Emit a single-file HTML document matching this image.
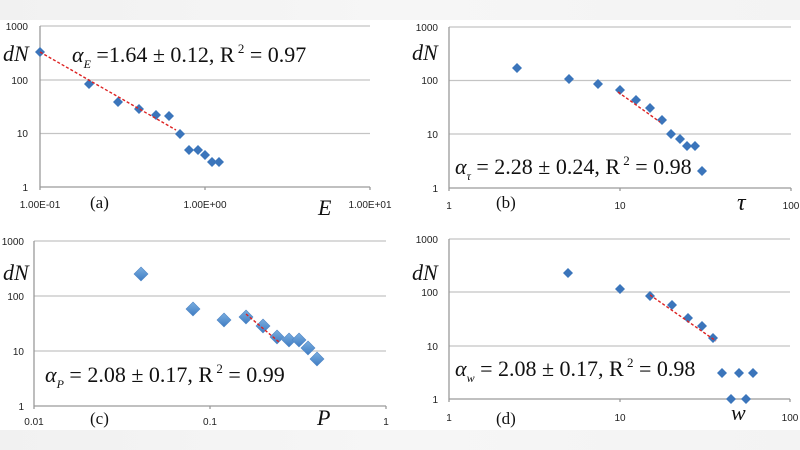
<!DOCTYPE html>
<html><head><meta charset="utf-8"><style>
html,body{margin:0;padding:0;background:#fff;}
svg{display:block}
.t{font-family:"Liberation Sans",sans-serif;font-size:10px;fill:#222}
.s{font-family:"Liberation Serif",serif;fill:#111}
.g{stroke:#c4c4c4;stroke-width:1.3}
.ax{stroke:#9a9a9a;stroke-width:1.3}
</style></head><body>
<svg width="800" height="450" viewBox="0 0 800 450" xmlns="http://www.w3.org/2000/svg">
<defs>
<linearGradient id="tb" x1="0" x2="1" y1="0" y2="0">
<stop offset="0" stop-color="#f1f1f1"/><stop offset="0.5" stop-color="#f6f6f6"/><stop offset="1" stop-color="#f3f3f3"/>
</linearGradient>
<linearGradient id="mk" x1="0" y1="0" x2="0" y2="1"><stop offset="0" stop-color="#7aaee0"/><stop offset="1" stop-color="#3f7cc2"/></linearGradient>
<symbol id="d" viewBox="-5 -5 10 10" overflow="visible"><path d="M0,-5L5,0L0,5L-5,0Z" fill="#3b75bb"/></symbol>
<symbol id="D" viewBox="-7 -7 14 14" overflow="visible"><path d="M0,-7L7,0L0,7L-7,0Z" fill="url(#mk)" stroke="#4f86c6" stroke-width="0.6"/></symbol>
</defs>
<rect x="0" y="0" width="800" height="20" fill="url(#tb)"/>
<rect x="0" y="430" width="800" height="20" fill="url(#tb)"/>

<!-- Panel a -->
<g>
<line class="g" x1="40" y1="26" x2="370" y2="26"/><line class="g" x1="40" y1="80" x2="370" y2="80"/><line class="g" x1="40" y1="133.5" x2="370" y2="133.5"/>
<line class="ax" x1="40" y1="187" x2="370" y2="187"/><line class="ax" x1="40" y1="26" x2="40" y2="190"/>
<line class="ax" x1="205" y1="187" x2="205" y2="190"/><line class="ax" x1="370" y1="187" x2="370" y2="190"/>
<text class="t" x="28" y="30" text-anchor="end">1000</text><text class="t" x="28" y="84" text-anchor="end">100</text>
<text class="t" x="28" y="137" text-anchor="end">10</text><text class="t" x="28" y="191" text-anchor="end">1</text>
<text class="t" x="40" y="208" text-anchor="middle">1.00E-01</text><text class="t" x="205" y="208" text-anchor="middle">1.00E+00</text><text class="t" x="370" y="208" text-anchor="middle">1.00E+01</text>
<g>
<use href="#d" x="35" y="47" width="10" height="10"/><use href="#d" x="84" y="79" width="10" height="10"/>
<use href="#d" x="113" y="97" width="10" height="10"/><use href="#d" x="134" y="104" width="10" height="10"/>
<use href="#d" x="151" y="110" width="10" height="10"/><use href="#d" x="164" y="111" width="10" height="10"/>
<use href="#d" x="175" y="129" width="10" height="10"/><use href="#d" x="184" y="145" width="10" height="10"/>
<use href="#d" x="193" y="145" width="10" height="10"/><use href="#d" x="200" y="150" width="10" height="10"/>
<use href="#d" x="207" y="157" width="10" height="10"/><use href="#d" x="214" y="157" width="10" height="10"/>
</g>
<line x1="40" y1="52" x2="176" y2="130" stroke="#d22" stroke-width="1.4" stroke-dasharray="3,2"/>
<text class="s" x="3" y="61" font-size="22" font-style="italic">dN</text>
<text class="s" x="72" y="62" font-size="22"><tspan font-style="italic">α</tspan><tspan font-size="12" dy="6" font-style="italic">E</tspan><tspan dy="-6"> =1.64 ± 0.12, R</tspan><tspan font-size="13" dy="-9"> 2</tspan><tspan dy="9"> =  0.97</tspan></text>
<text class="s" x="90" y="208" font-size="17">(a)</text>
<text class="s" x="318" y="215" font-size="22" font-style="italic">E</text>
</g>

<!-- Panel b -->
<g>
<line class="g" x1="449" y1="27" x2="791" y2="27"/><line class="g" x1="449" y1="80.5" x2="791" y2="80.5"/><line class="g" x1="449" y1="134" x2="791" y2="134"/>
<line class="ax" x1="449" y1="188" x2="791" y2="188"/><line class="ax" x1="449" y1="27" x2="449" y2="191"/>
<line class="ax" x1="620" y1="188" x2="620" y2="191"/><line class="ax" x1="791" y1="188" x2="791" y2="191"/>
<text class="t" x="438" y="31" text-anchor="end">1000</text><text class="t" x="438" y="84" text-anchor="end">100</text>
<text class="t" x="438" y="138" text-anchor="end">10</text><text class="t" x="438" y="192" text-anchor="end">1</text>
<text class="t" x="449" y="209" text-anchor="middle">1</text><text class="t" x="620" y="209" text-anchor="middle">10</text><text class="t" x="791" y="209" text-anchor="middle">100</text>
<g>
<use href="#d" x="512" y="63" width="10" height="10"/><use href="#d" x="564" y="74" width="10" height="10"/>
<use href="#d" x="593" y="79" width="10" height="10"/><use href="#d" x="615" y="85" width="10" height="10"/>
<use href="#d" x="631" y="95" width="10" height="10"/><use href="#d" x="645" y="103" width="10" height="10"/>
<use href="#d" x="657" y="115" width="10" height="10"/><use href="#d" x="666" y="129" width="10" height="10"/>
<use href="#d" x="675" y="134" width="10" height="10"/><use href="#d" x="682" y="141" width="10" height="10"/>
<use href="#d" x="690" y="141" width="10" height="10"/><use href="#d" x="697" y="166" width="10" height="10"/>
</g>
<line x1="618" y1="92" x2="660" y2="122" stroke="#d22" stroke-width="1.4" stroke-dasharray="3,2"/>
<text class="s" x="412" y="60" font-size="22" font-style="italic">dN</text>
<text class="s" x="455" y="174" font-size="22"><tspan font-style="italic">α</tspan><tspan font-size="12" dy="6" font-style="italic">τ</tspan><tspan dy="-6"> = 2.28 ± 0.24, R</tspan><tspan font-size="13" dy="-9"> 2</tspan><tspan dy="9"> =  0.98</tspan></text>
<text class="s" x="496" y="208" font-size="17">(b)</text>
<text class="s" x="737" y="210" font-size="24" font-style="italic">τ</text>
</g>

<!-- Panel c -->
<g>
<line class="g" x1="34" y1="241" x2="386" y2="241"/><line class="g" x1="34" y1="296" x2="386" y2="296"/><line class="g" x1="34" y1="351" x2="386" y2="351"/>
<line class="ax" x1="34" y1="406" x2="386" y2="406"/><line class="ax" x1="34" y1="241" x2="34" y2="409"/>
<line class="ax" x1="210" y1="406" x2="210" y2="409"/><line class="ax" x1="386" y1="406" x2="386" y2="409"/>
<text class="t" x="24" y="245" text-anchor="end">1000</text><text class="t" x="24" y="300" text-anchor="end">100</text>
<text class="t" x="24" y="355" text-anchor="end">10</text><text class="t" x="24" y="410" text-anchor="end">1</text>
<text class="t" x="34" y="425" text-anchor="middle">0.01</text><text class="t" x="210" y="425" text-anchor="middle">0.1</text><text class="t" x="386" y="425" text-anchor="middle">1</text>
<g>
<use href="#D" x="134" y="267" width="14" height="14"/><use href="#D" x="186" y="302" width="14" height="14"/>
<use href="#D" x="217" y="313" width="14" height="14"/><use href="#D" x="239" y="310" width="14" height="14"/>
<use href="#D" x="256" y="319" width="14" height="14"/><use href="#D" x="270" y="330" width="14" height="14"/>
<use href="#D" x="282" y="333" width="14" height="14"/><use href="#D" x="292" y="333" width="14" height="14"/>
<use href="#D" x="301" y="341" width="14" height="14"/><use href="#D" x="310" y="352" width="14" height="14"/>
</g>
<line x1="246" y1="314" x2="279" y2="342" stroke="#d22" stroke-width="1.4" stroke-dasharray="3,2"/>
<text class="s" x="3" y="280" font-size="22" font-style="italic">dN</text>
<text class="s" x="45" y="382" font-size="22"><tspan font-style="italic">α</tspan><tspan font-size="12" dy="6" font-style="italic">P</tspan><tspan dy="-6"> = 2.08 ± 0.17, R</tspan><tspan font-size="13" dy="-9"> 2</tspan><tspan dy="9"> =  0.99</tspan></text>
<text class="s" x="90" y="424" font-size="17">(c)</text>
<text class="s" x="317" y="425" font-size="22" font-style="italic">P</text>
</g>

<!-- Panel d -->
<g>
<line class="g" x1="449" y1="239" x2="790" y2="239"/><line class="g" x1="449" y1="292" x2="790" y2="292"/><line class="g" x1="449" y1="346" x2="790" y2="346"/>
<line class="ax" x1="449" y1="399" x2="790" y2="399"/><line class="ax" x1="449" y1="239" x2="449" y2="402"/>
<line class="ax" x1="620" y1="399" x2="620" y2="402"/><line class="ax" x1="790" y1="399" x2="790" y2="402"/>
<text class="t" x="438" y="243" text-anchor="end">1000</text><text class="t" x="438" y="296" text-anchor="end">100</text>
<text class="t" x="438" y="350" text-anchor="end">10</text><text class="t" x="438" y="403" text-anchor="end">1</text>
<text class="t" x="449" y="421" text-anchor="middle">1</text><text class="t" x="620" y="421" text-anchor="middle">10</text><text class="t" x="790" y="421" text-anchor="middle">100</text>
<g>
<use href="#d" x="563" y="268" width="10" height="10"/><use href="#d" x="615" y="284" width="10" height="10"/>
<use href="#d" x="645" y="291" width="10" height="10"/><use href="#d" x="667" y="300" width="10" height="10"/>
<use href="#d" x="683" y="313" width="10" height="10"/><use href="#d" x="697" y="321" width="10" height="10"/>
<use href="#d" x="708" y="333" width="10" height="10"/><use href="#d" x="717" y="368" width="10" height="10"/>
<use href="#d" x="734" y="368" width="10" height="10"/><use href="#d" x="748" y="368" width="10" height="10"/>
<use href="#d" x="726" y="394" width="10" height="10"/><use href="#d" x="741" y="394" width="10" height="10"/>
</g>
<line x1="650" y1="295" x2="716" y2="341" stroke="#d22" stroke-width="1.4" stroke-dasharray="3,2"/>
<text class="s" x="412" y="280" font-size="22" font-style="italic">dN</text>
<text class="s" x="455" y="376" font-size="22"><tspan font-style="italic">α</tspan><tspan font-size="12" dy="6" font-style="italic">w</tspan><tspan dy="-6"> = 2.08 ± 0.17, R</tspan><tspan font-size="13" dy="-9"> 2</tspan><tspan dy="9"> =  0.98</tspan></text>
<text class="s" x="496" y="424" font-size="17">(d)</text>
<text class="s" x="731" y="420" font-size="22" font-style="italic">w</text>
</g>
</svg>
</body></html>
